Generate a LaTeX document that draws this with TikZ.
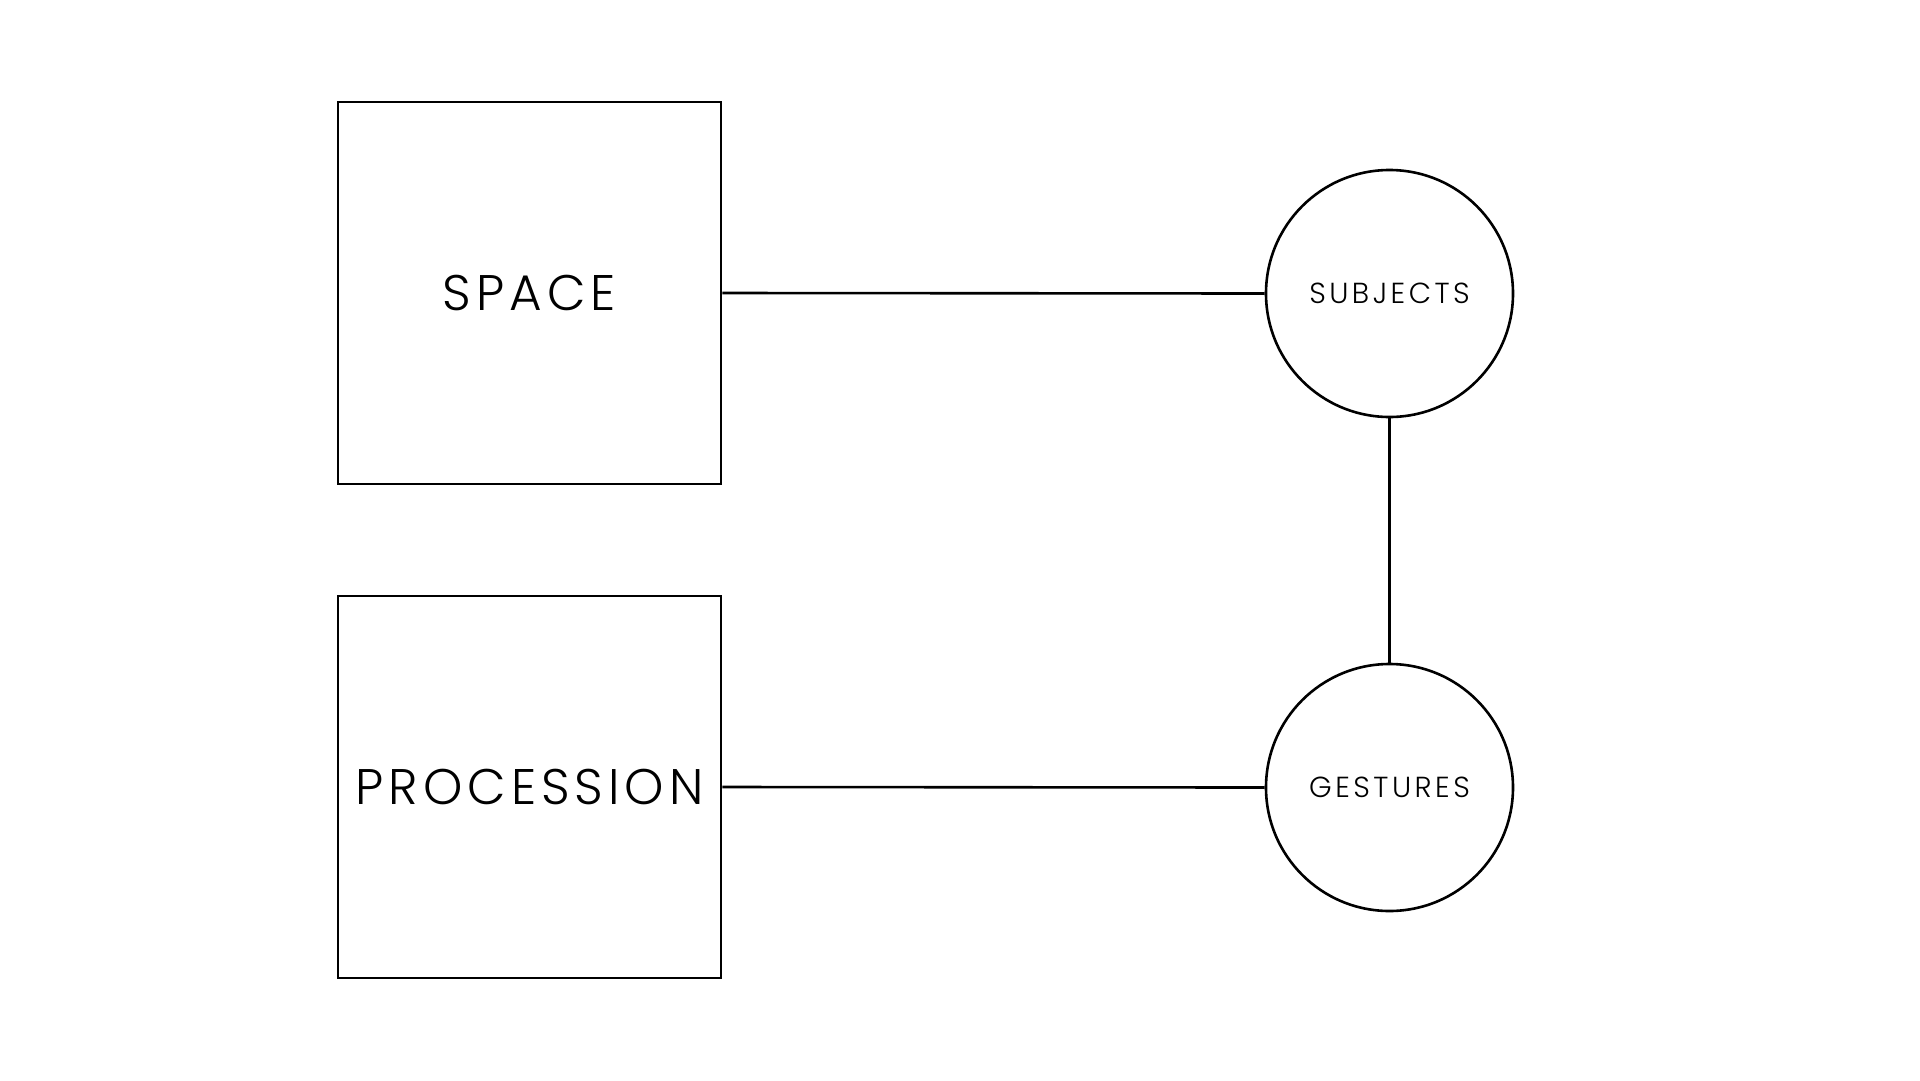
\documentclass[tikz,border=0pt]{standalone}
\usepackage{fontspec}
\setmainfont{Poppins}[UprightFont=* Light]
\newfontfamily\bigfont{Poppins Light}[LetterSpace=10]
\newfontfamily\smallfont{Poppins Light}[LetterSpace=12]
\begin{document}
\begin{tikzpicture}[x=1pt,y=-1pt,
  boxnode/.style={draw=black,line width=2.6pt,rectangle,minimum width=383pt,minimum height=382pt,inner sep=0pt,font=\bigfont\fontsize{50}{60}\selectfont},
  circnode/.style={draw=black,line width=2.6pt,circle,minimum size=247pt,inner sep=0pt,font=\smallfont\fontsize{29}{35}\selectfont},
  link/.style={draw=black,line width=2.6pt}]
\useasboundingbox (0,0) rectangle (1920,1080);
\fill[white] (0,0) rectangle (1920,1080);
\node[boxnode] (space) at (529.5,293) {SPACE};
\node[boxnode] (proc) at (529.5,787) {PROCESSION};
\node[circnode] (subj) at (1389.5,293.5) {SUBJECTS};
\node[circnode] (gest) at (1389.5,787.5) {GESTURES};
\draw[link] (space.east) -- (subj.west);
\draw[link] (subj.south) -- (gest.north);
\draw[link] (proc.east) -- (gest.west);
\end{tikzpicture}
\end{document}
